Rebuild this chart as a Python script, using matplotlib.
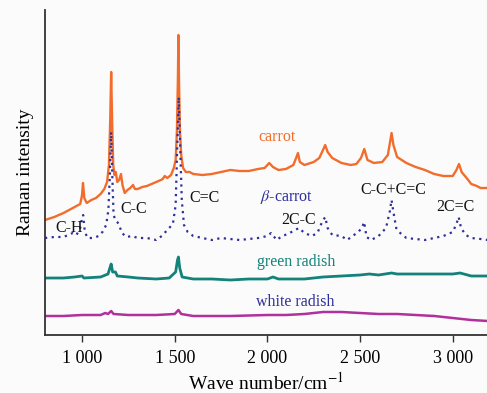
import matplotlib
matplotlib.use("Agg")
import matplotlib.pyplot as plt
from matplotlib.ticker import FixedLocator, FixedFormatter

plt.rcParams['font.family'] = ['Liberation Serif', 'DejaVu Serif']
plt.rcParams['mathtext.fontset'] = 'stix'

# ---- data (intensities in arbitrary units) ----
carrot_x = [800, 850, 900, 950, 990, 1000, 1005, 1012, 1025, 1050, 1075, 1100, 1120, 1135, 1145,
            1152, 1157, 1162, 1168, 1175, 1182, 1190, 1200, 1210, 1218, 1230, 1245, 1260, 1275,
            1285, 1300, 1325, 1350, 1375, 1400, 1425, 1435, 1446, 1460, 1480, 1495, 1505, 1512,
            1517, 1520, 1523, 1528, 1535, 1545, 1560, 1580, 1600, 1650, 1700, 1750, 1800, 1850,
            1900, 1950, 1985, 2010, 2030, 2060, 2100, 2140, 2155, 2165, 2175, 2200, 2250, 2280,
            2300, 2312, 2325, 2350, 2400, 2450, 2480, 2505, 2523, 2540, 2575, 2620, 2650, 2662,
            2670, 2680, 2700, 2750, 2800, 2850, 2900, 2950, 3000, 3020, 3034, 3048, 3075, 3100,
            3130, 3150, 3190]
carrot_y = [115, 118, 122, 127, 131, 140, 152, 137, 132, 135, 137, 141, 146, 153, 170,
            215, 263, 215, 170, 160, 163, 153, 155, 161, 150, 142, 145, 147, 150,
            146, 146, 148, 149, 151, 153, 155, 156, 159, 157, 160, 167, 175, 205,
            255, 300, 255, 205, 180, 167, 163, 163, 161, 160, 161, 163, 165, 164,
            164, 166, 167, 172, 168, 165, 166, 170, 177, 182, 173, 170, 173, 177,
            185, 190, 183, 177, 172, 170, 171, 177, 186, 175, 172, 173, 180, 193,
            202, 190, 178, 172, 168, 165, 161, 159, 159, 165, 171, 163, 157, 151,
            149, 147, 147]

beta_x = [800, 850, 900, 950, 970, 990, 1000, 1006, 1015, 1030, 1060, 1090, 1110, 1130, 1142,
          1150, 1157, 1163, 1170, 1180, 1190, 1200, 1215, 1240, 1270, 1300, 1350, 1400, 1430,
          1460, 1490, 1505, 1513, 1522, 1530, 1538, 1550, 1570, 1600, 1650, 1700, 1750, 1800,
          1850, 1900, 1950, 2000, 2020, 2050, 2080, 2110, 2150, 2170, 2200, 2240, 2270, 2295,
          2312, 2325, 2350, 2400, 2430, 2460, 2490, 2510, 2522, 2535, 2560, 2600, 2640, 2660,
          2670, 2680, 2695, 2710, 2750, 2800, 2850, 2900, 2950, 3000, 3020, 3032, 3045, 3070,
          3100, 3150, 3190]
beta_y = [97, 98, 98, 102, 100, 107, 117, 120, 103, 97, 97, 99, 103, 110, 125,
          160, 203, 160, 120, 115, 113, 110, 102, 98, 99, 97, 97, 95, 99,
          105, 111, 130, 185, 238, 185, 135, 110, 103, 99, 97, 95, 97, 96,
          95, 96, 97, 99, 102, 95, 99, 101, 105, 107, 102, 99, 102, 113,
          118, 107, 100, 99, 95, 99, 103, 107, 113, 98, 95, 99, 107, 123,
          135, 123, 107, 103, 97, 96, 95, 97, 99, 103, 111, 118, 107, 100,
          97, 96, 95]

green_x = [800, 900, 960, 1000, 1010, 1100, 1140, 1150, 1157, 1165, 1180, 1190, 1250, 1300, 1400,
           1470, 1505, 1515, 1520, 1527, 1540, 1600, 1700, 1800, 1900, 2000, 2030, 2060, 2100,
           2200, 2300, 2400, 2500, 2550, 2600, 2670, 2700, 2800, 2900, 3000, 3040, 3100, 3190]
green_y = [57, 57, 58, 59, 57, 58, 61, 67, 71, 63, 63, 59, 58, 57, 56,
           57, 63, 75, 78, 67, 58, 56, 56, 55, 56, 56, 58, 56, 56,
           56, 58, 59, 60, 61, 60, 62, 61, 61, 61, 61, 62, 59, 59]

white_x = [800, 900, 1000, 1100, 1125, 1140, 1157, 1170, 1250, 1400, 1500, 1520, 1535, 1600, 1800,
           2000, 2100, 2200, 2300, 2400, 2500, 2600, 2700, 2800, 2900, 3000, 3050, 3100, 3190]
white_y = [19, 19, 20, 20, 22, 21, 24, 21, 20, 20, 21, 25, 21, 19, 19,
           20, 20, 21, 23, 23, 22, 21, 21, 20, 19, 17, 16, 15, 14]

tick_values = [1000, 1500, 2000, 2500, 3000]
tick_labels = ["1 000", "1 500", "2 000", "2 500", "3 000"]

# ---- figure ----
fig = plt.figure(figsize=(4.87, 3.93), dpi=100)
fig.patch.set_facecolor('#fbfbfb')
ax = fig.add_axes([45/487, 58/393, 442/487, 325/393])
ax.set_facecolor('#fbfbfb')

ax.plot(carrot_x, carrot_y, color='#f26d2b', lw=1.7)
ax.plot(beta_x, beta_y, color='#2f2f9a', lw=1.6, linestyle=(0, (1, 2)))
ax.plot(green_x, green_y, color='#13827a', lw=2.0)
ax.plot(white_x, white_y, color='#b0309c', lw=1.8)

ax.set_xlim(800, 3185)
ax.set_ylim(0, 325)

for s in ['top', 'right']:
    ax.spines[s].set_visible(False)
for s in ['left', 'bottom']:
    ax.spines[s].set_linewidth(1.3)
    ax.spines[s].set_color('#333333')

ax.xaxis.set_major_locator(FixedLocator(tick_values))
ax.xaxis.set_major_formatter(FixedFormatter(tick_labels))
ax.tick_params(axis='x', direction='out', length=5, width=1, color='#333333',
               labelsize=13, pad=6)
ax.set_yticks([])

ax.set_xlabel("Wave number/cm$^{-1}$", fontsize=14, labelpad=3)
ax.set_ylabel("Raman intensity", fontsize=14, labelpad=8)

txt = dict(ha='center', va='center', fontsize=11.5)
ax.text(2051, 198, "carrot", color='#f26d2b', **txt)
ax.text(2105, 138, r"$\beta$-carrot", color='#2f2f9a', **txt)
ax.text(2153, 73, "green radish", color='#13827a', **txt)
ax.text(2150, 33, "white radish", color='#2f2f9a', **txt)
ax.text(929, 107, "C-H", color='#111111', **txt)
ax.text(1278, 126, "C-C", color='#111111', **txt)
ax.text(1659, 137, "C=C", color='#111111', **txt)
ax.text(2169, 115, "2C-C", color='#111111', **txt)
ax.text(2681, 145, "C-C+C=C", color='#111111', **txt)
ax.text(3015, 128, "2C=C", color='#111111', **txt)

fig.savefig("out.png", dpi=100, facecolor=fig.get_facecolor())
